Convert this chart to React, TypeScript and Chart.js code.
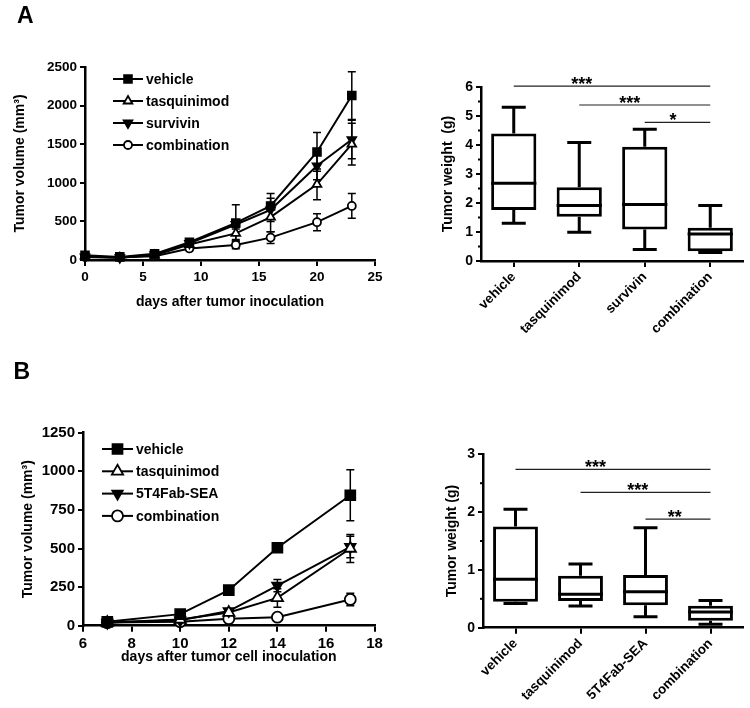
import React, { useEffect, useRef } from 'react';
import { Chart, registerables } from 'chart.js';
import { drawPoint } from 'chart.js/helpers';

Chart.register(...registerables);

const FONT = "'Liberation Sans', Arial, Helvetica, sans-serif";
Chart.defaults.font.family = FONT;
Chart.defaults.color = '#000';

// ---------- Panel A: tumour volume ----------
const daysA = [0, 3, 6, 9, 13, 16, 20, 23];
const namesA = ['vehicle', 'tasquinimod', 'survivin', 'combination'];
const vehicleVolA = [60, 40, 80, 230, 480, 700, 1400, 2130];
const vehicleErrA = [30, 15, 20, 30, 235, 160, 250, 310];
const tasqVolA = [50, 30, 60, 200, 345, 555, 980, 1500];
const tasqErrA = [20, 10, 15, 25, 80, 190, 200, 270];
const survVolA = [40, 30, 70, 215, 460, 650, 1220, 1560];
const survErrA = [20, 10, 15, 25, 60, 150, 180, 250];
const combVolA = [40, 35, 50, 150, 195, 290, 490, 700];
const combErrA = [15, 10, 10, 20, 50, 75, 110, 160];
const volTicksA = { min: 0, max: 2500, step: 500 };
const dayTicksA = { min: 0, max: 25, step: 5 };

// ---------- Panel A: tumour weight ----------
const weightCatsA = ['vehicle', 'tasquinimod', 'survivin', 'combination'];
const weightMinA = [1.3, 0.99, 0.4, 0.29];
const weightQ1A = [1.76, 1.53, 1.09, 0.34];
const weightMedA = [2.68, 1.91, 1.95, 0.93];
const weightQ3A = [4.4, 2.54, 3.94, 1.15];
const weightMaxA = [5.3, 4.09, 4.54, 1.91];
const weightTicksA = { min: 0, max: 6, step: 1, minor: 0.5 };
const sigA = [
  { from: 0, to: 3, y: 6.03, label: '***', at: 1.04 },
  { from: 1, to: 3, y: 5.38, label: '***', at: 1.77 },
  { from: 2, to: 3, y: 4.78, label: '*', at: 2.43 },
];

// ---------- Panel B: tumour volume ----------
const daysB = [7, 10, 12, 14, 17];
const namesB = ['vehicle', 'tasquinimod', '5T4Fab-SEA', 'combination'];
const vehicleVolB = [25, 75, 230, 505, 845];
const vehicleErrB = [10, 15, 20, 25, 165];
const tasqVolB = [20, 40, 85, 180, 500];
const tasqErrB = [5, 10, 15, 60, 90];
const fabVolB = [20, 35, 95, 260, 510];
const fabErrB = [5, 10, 15, 40, 70];
const combVolB = [20, 25, 45, 55, 170];
const combErrB = [5, 5, 10, 10, 40];
const volTicksB = { min: 0, max: 1250, step: 250 };
const dayTicksB = { min: 6, max: 18, step: 2 };

// ---------- Panel B: tumour weight ----------
const weightCatsB = ['vehicle', 'tasquinimod', '5T4Fab-SEA', 'combination'];
const weightMinB = [0.42, 0.375, 0.19, 0.06];
const weightQ1B = [0.45, 0.46, 0.39, 0.12];
const weightMedB = [0.84, 0.58, 0.62, 0.27];
const weightQ3B = [1.75, 0.9, 0.91, 0.38];
const weightMaxB = [2.05, 1.1, 1.73, 0.47];
const weightTicksB = { min: 0, max: 3, step: 1, minor: 0.5 };
const sigB = [
  { from: 0, to: 3, y: 2.74, label: '***', at: 1.23 },
  { from: 1, to: 3, y: 2.34, label: '***', at: 1.88 },
  { from: 2, to: 3, y: 1.88, label: '**', at: 2.45 },
];

// marker styles per series (vehicle, tasquinimod, survivin/5T4Fab-SEA, combination)
const markerStyles = [
  { pointStyle: 'rect', rotation: 0, fill: '#000' },
  { pointStyle: 'triangle', rotation: 0, fill: '#fff' },
  { pointStyle: 'triangle', rotation: 180, fill: '#000' },
  { pointStyle: 'circle', rotation: 0, fill: '#fff' },
];

const plainTick = (v: any) => String(v);

const errorBarPlugin = (errs: number[][], cap: number) => ({
  id: 'errbars',
  beforeDatasetsDraw(chart: any) {
    const ctx = chart.ctx;
    const ys = chart.scales.y;
    ctx.save();
    ctx.strokeStyle = '#000';
    ctx.lineWidth = 1.5;
    chart.data.datasets.forEach((ds: any, di: number) => {
      const meta = chart.getDatasetMeta(di);
      meta.data.forEach((pt: any, i: number) => {
        const v = ds.data[i].y;
        const e = errs[di][i];
        const y1 = ys.getPixelForValue(v + e);
        const y2 = ys.getPixelForValue(v - e);
        if (Math.abs(y2 - y1) / 2 < ds.pointRadius - 1) return;
        const x = pt.x;
        ctx.beginPath();
        ctx.moveTo(x, y1);
        ctx.lineTo(x, y2);
        ctx.moveTo(x - cap, y1);
        ctx.lineTo(x + cap, y1);
        ctx.moveTo(x - cap, y2);
        ctx.lineTo(x + cap, y2);
        ctx.stroke();
      });
    });
    ctx.restore();
  },
});

const legendPlugin = (x0: number, y0: number, dy: number, len: number, size: number) => ({
  id: 'customLegend',
  afterDraw(chart: any) {
    const ctx = chart.ctx;
    chart.data.datasets.forEach((ds: any, i: number) => {
      const y = y0 + i * dy;
      ctx.save();
      ctx.strokeStyle = '#000';
      ctx.lineWidth = 2;
      ctx.beginPath();
      ctx.moveTo(x0, y);
      ctx.lineTo(x0 + len, y);
      ctx.stroke();
      ctx.fillStyle = ds.pointBackgroundColor;
      ctx.strokeStyle = '#000';
      ctx.lineWidth = ds.pointBorderWidth;
      drawPoint(ctx, { pointStyle: ds.pointStyle, rotation: ds.pointRotation || 0, radius: ds.pointRadius, borderWidth: ds.pointBorderWidth } as any, x0 + len / 2, y);
      ctx.fillStyle = '#000';
      ctx.font = `bold ${size}px ${FONT}`;
      ctx.textBaseline = 'middle';
      ctx.textAlign = 'left';
      ctx.fillText(ds.label, x0 + len + 3, y + 1);
      ctx.restore();
    });
  },
});

function axisCommon(tickFont: number, tickLen: number) {
  return {
    grid: { drawOnChartArea: false, drawTicks: true, tickLength: tickLen, tickWidth: 2, tickColor: '#000', color: '#000', lineWidth: 2 },
    border: { display: true, color: '#000', width: 2.5 },
    ticks: { font: { size: tickFont, weight: 'bold' }, color: '#000', padding: 3 },
  };
}

function lineChartConfig(p: any) {
  const xc = axisCommon(p.tickFont, 6);
  const yc = axisCommon(p.tickFont, 5);
  return {
    type: 'line',
    data: {
      datasets: p.names.map((name: string, i: number) => ({
        label: name,
        data: p.days.map((d: number, j: number) => ({ x: d, y: p.values[i][j] })),
        borderColor: '#000',
        borderWidth: 2,
        tension: 0,
        pointStyle: markerStyles[i].pointStyle,
        pointRotation: markerStyles[i].rotation,
        pointRadius: p.radii[i],
        pointBackgroundColor: markerStyles[i].fill,
        pointBorderColor: '#000',
        pointBorderWidth: 1.8,
        clip: false,
      })),
    },
    options: {
      responsive: false,
      maintainAspectRatio: false,
      animation: false,
      devicePixelRatio: 1,
      layout: { padding: p.padding },
      plugins: { legend: { display: false }, tooltip: { enabled: false } },
      scales: {
        x: {
          type: 'linear',
          min: p.xTicks.min,
          max: p.xTicks.max,
          ...xc,
          ticks: { ...xc.ticks, stepSize: p.xTicks.step, callback: plainTick },
          title: { display: true, text: p.xTitle, font: { size: 14, weight: 'bold' }, color: '#000', padding: 0 },
          afterFit: (s: any) => { s.height = p.xHeight; },
        },
        y: {
          type: 'linear',
          min: p.yTicks.min,
          max: p.yTicks.max,
          ...yc,
          ticks: { ...yc.ticks, stepSize: p.yTicks.step, callback: plainTick },
          title: { display: true, text: p.yTitle, font: { size: 14, weight: 'bold' }, color: '#000', padding: 0 },
          afterFit: (s: any) => { s.width = p.yWidth; },
        },
      },
    },
    plugins: [errorBarPlugin(p.errors, 4), legendPlugin(p.legend.x, p.legend.y, p.legend.dy, p.legend.len, 14)],
  };
}

const boxPlugin = (mins: number[], meds: number[], maxs: number[], capHalf: number) => ({
  id: 'boxWhiskers',
  afterDatasetsDraw(chart: any) {
    const ctx = chart.ctx;
    const ys = chart.scales.y;
    const meta = chart.getDatasetMeta(0);
    ctx.save();
    ctx.strokeStyle = '#000';
    ctx.lineWidth = 3;
    meta.data.forEach((bar: any, i: number) => {
      const [q1, q3] = chart.data.datasets[0].data[i];
      const x = bar.x;
      const w = bar.width;
      const pMin = ys.getPixelForValue(mins[i]);
      const pMax = ys.getPixelForValue(maxs[i]);
      const pQ1 = ys.getPixelForValue(q1);
      const pQ3 = ys.getPixelForValue(q3);
      const pMed = ys.getPixelForValue(meds[i]);
      ctx.beginPath();
      ctx.moveTo(x, pQ3);
      ctx.lineTo(x, pMax);
      ctx.moveTo(x - capHalf, pMax);
      ctx.lineTo(x + capHalf, pMax);
      ctx.moveTo(x, pQ1);
      ctx.lineTo(x, pMin);
      ctx.moveTo(x - capHalf, pMin);
      ctx.lineTo(x + capHalf, pMin);
      ctx.moveTo(x - w / 2, pMed);
      ctx.lineTo(x + w / 2, pMed);
      ctx.stroke();
    });
    ctx.restore();
  },
});

const sigPlugin = (sigs: any[]) => ({
  id: 'sigLines',
  afterDraw(chart: any) {
    const ctx = chart.ctx;
    const xs = chart.scales.x;
    const ys = chart.scales.y;
    ctx.save();
    sigs.forEach((s) => {
      const y = ys.getPixelForValue(s.y);
      ctx.strokeStyle = '#222';
      ctx.lineWidth = 1.2;
      ctx.beginPath();
      ctx.moveTo(xs.getPixelForValue(s.from), y);
      ctx.lineTo(xs.getPixelForValue(s.to), y);
      ctx.stroke();
      ctx.fillStyle = '#000';
      ctx.font = `bold 18px ${FONT}`;
      ctx.textAlign = 'center';
      ctx.textBaseline = 'alphabetic';
      ctx.fillText(s.label, xs.getPixelForValue(s.at), y + 4);
    });
    ctx.restore();
  },
});

const minorTickPlugin = (t: any) => ({
  id: 'minorTicks',
  afterDraw(chart: any) {
    const ctx = chart.ctx;
    const ys = chart.scales.y;
    const x = chart.chartArea.left;
    ctx.save();
    ctx.strokeStyle = '#000';
    ctx.lineWidth = 2;
    for (let v = t.min + t.minor; v < t.max; v += t.step) {
      const y = ys.getPixelForValue(v);
      ctx.beginPath();
      ctx.moveTo(x - 3, y);
      ctx.lineTo(x, y);
      ctx.stroke();
    }
    ctx.restore();
  },
});

function boxChartConfig(p: any) {
  const xc = axisCommon(13.5, 6);
  const yc = axisCommon(14, 5);
  return {
    type: 'bar',
    data: {
      labels: p.cats,
      datasets: [{
        data: p.q1.map((v: number, i: number) => [v, p.q3[i]]),
        backgroundColor: '#fff',
        borderColor: '#000',
        borderWidth: 3,
        borderSkipped: false,
        barPercentage: 0.69,
        categoryPercentage: 1,
      }],
    },
    options: {
      responsive: false,
      maintainAspectRatio: false,
      animation: false,
      devicePixelRatio: 1,
      layout: { padding: p.padding },
      plugins: { legend: { display: false }, tooltip: { enabled: false } },
      scales: {
        x: {
          type: 'category',
          offset: true,
          ...xc,
          grid: { ...xc.grid, offset: false },
          ticks: { ...xc.ticks, minRotation: 45, maxRotation: 45, autoSkip: false, padding: 2 },
          afterFit: (s: any) => { s.height = p.xHeight; },
        },
        y: {
          type: 'linear',
          min: p.yTicks.min,
          max: p.yTicks.max,
          ...yc,
          ticks: { ...yc.ticks, stepSize: p.yTicks.step, callback: plainTick },
          title: { display: true, text: p.yTitle, font: { size: 14, weight: 'bold' }, color: '#000', padding: 0 },
          afterFit: (s: any) => { s.width = p.yWidth; },
        },
      },
    },
    plugins: [boxPlugin(p.min, p.med, p.max, 12), sigPlugin(p.sigs), minorTickPlugin(p.yTicks)],
  };
}

function ChartCanvas({ left, top, width, height, config }: any) {
  const ref = useRef<HTMLCanvasElement>(null);
  useEffect(() => {
    const chart = new Chart(ref.current as HTMLCanvasElement, config());
    return () => chart.destroy();
  }, []);
  return (
    <canvas
      ref={ref}
      width={width}
      height={height}
      style={{ position: 'absolute', left, top, width, height }}
    />
  );
}

const lineA = () => lineChartConfig({
  days: daysA,
  names: namesA,
  values: [vehicleVolA, tasqVolA, survVolA, combVolA],
  errors: [vehicleErrA, tasqErrA, survErrA, combErrA],
  radii: [5.5, 5, 5, 4],
  xTicks: dayTicksA,
  yTicks: volTicksA,
  xTitle: 'days after tumor inoculation',
  yTitle: 'Tumor volume (mm³)',
  padding: { left: 11.6, top: 67, right: 15, bottom: 19.6 },
  yWidth: 73.4,
  xHeight: 50.4,
  tickFont: 13.5,
  legend: { x: 113, y: 79, dy: 22, len: 30 },
});

const lineB = () => lineChartConfig({
  days: daysB,
  names: namesB,
  values: [vehicleVolB, tasqVolB, fabVolB, combVolB],
  errors: [vehicleErrB, tasqErrB, fabErrB, combErrB],
  radii: [7, 6.5, 6, 5.5],
  xTicks: dayTicksB,
  yTicks: volTicksB,
  xTitle: 'days after tumor cell inoculation',
  yTitle: 'Tumor volume (mm³)',
  padding: { left: 19.6, top: 72.7, right: 15.4, bottom: 24.6 },
  yWidth: 63.4,
  xHeight: 39.7,
  tickFont: 15,
  legend: { x: 102, y: 89, dy: 22.3, len: 31 },
});

const boxA = () => boxChartConfig({
  cats: weightCatsA,
  min: weightMinA, q1: weightQ1A, med: weightMedA, q3: weightQ3A, max: weightMaxA,
  yTicks: weightTicksA,
  yTitle: 'Tumor weight  (g)',
  sigs: sigA,
  padding: { left: 59.6, top: 87, right: 7, bottom: 0 },
  yWidth: 41.4,
  xHeight: 93,
});

const boxB = () => boxChartConfig({
  cats: weightCatsB,
  min: weightMinB, q1: weightQ1B, med: weightMedB, q3: weightQ3B, max: weightMaxB,
  yTicks: weightTicksB,
  yTitle: 'Tumor weight (g)',
  sigs: sigB,
  padding: { left: 63.6, top: 100.3, right: 7, bottom: 0 },
  yWidth: 39.4,
  xHeight: 80.3,
});

export default function App() {
  const letter = { position: 'absolute' as const, fontFamily: FONT, fontWeight: 'bold' as const, fontSize: 23, lineHeight: 1 };
  return (
    <div style={{ position: 'absolute', left: 0, top: 0, width: 750, height: 708, background: '#fff', overflow: 'hidden' }}>
      <ChartCanvas left={0} top={0} width={390} height={330} config={lineA} />
      <ChartCanvas left={380} top={0} width={370} height={354} config={boxA} />
      <ChartCanvas left={0} top={360} width={390} height={330} config={lineB} />
      <ChartCanvas left={380} top={354} width={370} height={354} config={boxB} />
      <div style={{ ...letter, left: 17, top: 4 }}>A</div>
      <div style={{ ...letter, left: 13.5, top: 360 }}>B</div>
    </div>
  );
}
